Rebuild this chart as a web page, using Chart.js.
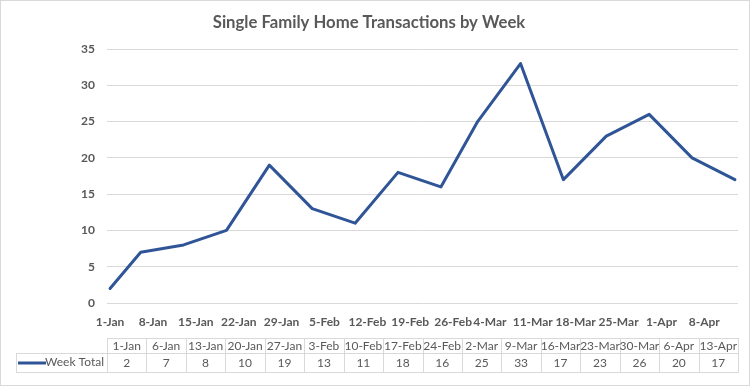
<!DOCTYPE html>
<html>
<head>
<meta charset="utf-8">
<script src="https://cdn.jsdelivr.net/npm/chart.js@4.4.1/dist/chart.umd.min.js"></script>
<style>
  html, body { margin: 0; padding: 0; background: #fff; }
  #wrap { width: 752px; height: 387px; }
</style>
</head>
<body>
<div id="wrap"><canvas id="line" width="752" height="387"></canvas></div>
<script>
// week start dates and totals (from the data table)
const weekLabels = ['1-Jan', '6-Jan', '13-Jan', '20-Jan', '27-Jan', '3-Feb', '10-Feb', '17-Feb',
    '24-Feb', '2-Mar', '9-Mar', '16-Mar', '23-Mar', '30-Mar', '6-Apr', '13-Apr']
const weekTotals = [2, 7, 8, 10, 19, 13, 11, 18, 16, 25, 33, 17, 23, 26, 20, 17]

// date axis tick labels (weekly)
const xTickLabels = ['1-Jan', '8-Jan', '15-Jan', '22-Jan', '29-Jan', '5-Feb', '12-Feb', '19-Feb',
    '26-Feb', '4-Mar', '11-Mar', '18-Mar', '25-Mar', '1-Apr', '8-Apr']

const seriesName = 'Week Total'
const chartTitle = 'Single Family Home Transactions by Week'

// day of year (0 = 1-Jan) from a "d-Mon" label
const monthStart = { Jan: 0, Feb: 31, Mar: 59, Apr: 90 }
const dayOf = (label) => {
    const [d, m] = label.split('-')
    return monthStart[m] + parseInt(d) - 1
}

const gray = '#595959'
const gridColor = '#d9d9d9'
const lineColor = '#2f5597'
const font = 'Lato, Calibri, "Noto Sans", sans-serif'

// data table + chart border, drawn under the plot
const dataTable = {
    id: 'dataTable',
    afterDraw(chart) {
        const ctx = chart.ctx
        const area = chart.chartArea
        const left = Math.round(area.left)
        const right = Math.round(area.right)
        const top = 338, mid = 353, bottom = 372
        const legendLeft = 16
        const colW = (right - left) / weekLabels.length

        ctx.save()
        ctx.strokeStyle = gridColor
        ctx.lineWidth = 1
        ctx.beginPath()
        // horizontal lines
        ctx.moveTo(left, top + 0.5); ctx.lineTo(right, top + 0.5)
        ctx.moveTo(legendLeft, mid + 0.5); ctx.lineTo(right, mid + 0.5)
        ctx.moveTo(legendLeft, bottom + 0.5); ctx.lineTo(right, bottom + 0.5)
        // vertical lines
        ctx.moveTo(legendLeft + 0.5, mid); ctx.lineTo(legendLeft + 0.5, bottom + 1)
        for (let i = 0; i <= weekLabels.length; i++) {
            const x = Math.round(left + i * colW) + 0.5
            ctx.moveTo(x, top); ctx.lineTo(x, bottom + 1)
        }
        ctx.stroke()

        ctx.fillStyle = gray
        ctx.font = '12px ' + font
        ctx.textAlign = 'center'
        ctx.textBaseline = 'middle'
        weekLabels.forEach((l, i) => {
            const cx = left + (i + 0.5) * colW
            ctx.fillText(l, cx, (top + mid) / 2 + 1)
            ctx.fillText(String(weekTotals[i]), cx, (mid + bottom) / 2 + 1)
        })

        // legend key
        ctx.strokeStyle = lineColor
        ctx.lineWidth = 3
        ctx.beginPath()
        ctx.moveTo(18, (mid + bottom) / 2 + 0.5)
        ctx.lineTo(46, (mid + bottom) / 2 + 0.5)
        ctx.stroke()
        ctx.textAlign = 'right'
        ctx.fillText(seriesName, left - 3, (mid + bottom) / 2)

        // outer border
        ctx.strokeStyle = gridColor
        ctx.lineWidth = 1
        ctx.strokeRect(0.5, 0.5, 749, 385)
        ctx.restore()
    }
}

const ctx = document.getElementById('line')
new Chart(ctx, {
    type: 'line',
    data: {
        datasets: [{
            label: seriesName,
            data: weekLabels.map((l, i) => ({ x: dayOf(l), y: weekTotals[i] })),
            borderColor: lineColor,
            borderWidth: 3,
            pointRadius: 0,
            tension: 0,
            borderJoinStyle: 'round',
            borderCapStyle: 'round'
        }]
    },
    options: {
        responsive: false,
        animation: false,
        layout: { padding: { left: 0, right: 14, top: 0, bottom: 49 } },
        plugins: {
            legend: { display: false },
            tooltip: { enabled: false },
            title: {
                display: true,
                text: chartTitle,
                color: gray,
                font: { family: font, size: 16.7, weight: 'bold' },
                padding: { top: 13, bottom: 16 }
            }
        },
        scales: {
            x: {
                type: 'linear',
                min: -0.5,
                max: 102.5,
                afterBuildTicks: (scale) => {
                    scale.ticks = xTickLabels.map(l => ({ value: dayOf(l) }))
                },
                afterFit: (scale) => { scale.height = 35 },
                ticks: {
                    autoSkip: false,
                    maxRotation: 0,
                    padding: 4,
                    color: gray,
                    font: { family: font, size: 12, weight: 'bold' },
                    callback: (v) => xTickLabels.find(l => dayOf(l) === v) || ''
                },
                grid: { display: false },
                border: { display: false }
            },
            y: {
                min: 0,
                max: 35,
                afterFit: (scale) => { scale.width = 107 },
                ticks: {
                    stepSize: 5,
                    padding: 12,
                    color: gray,
                    font: { family: font, size: 12, weight: 'bold' }
                },
                grid: { color: gridColor, drawTicks: false },
                border: { display: false }
            }
        }
    },
    plugins: [dataTable]
})
</script>
</body>
</html>
